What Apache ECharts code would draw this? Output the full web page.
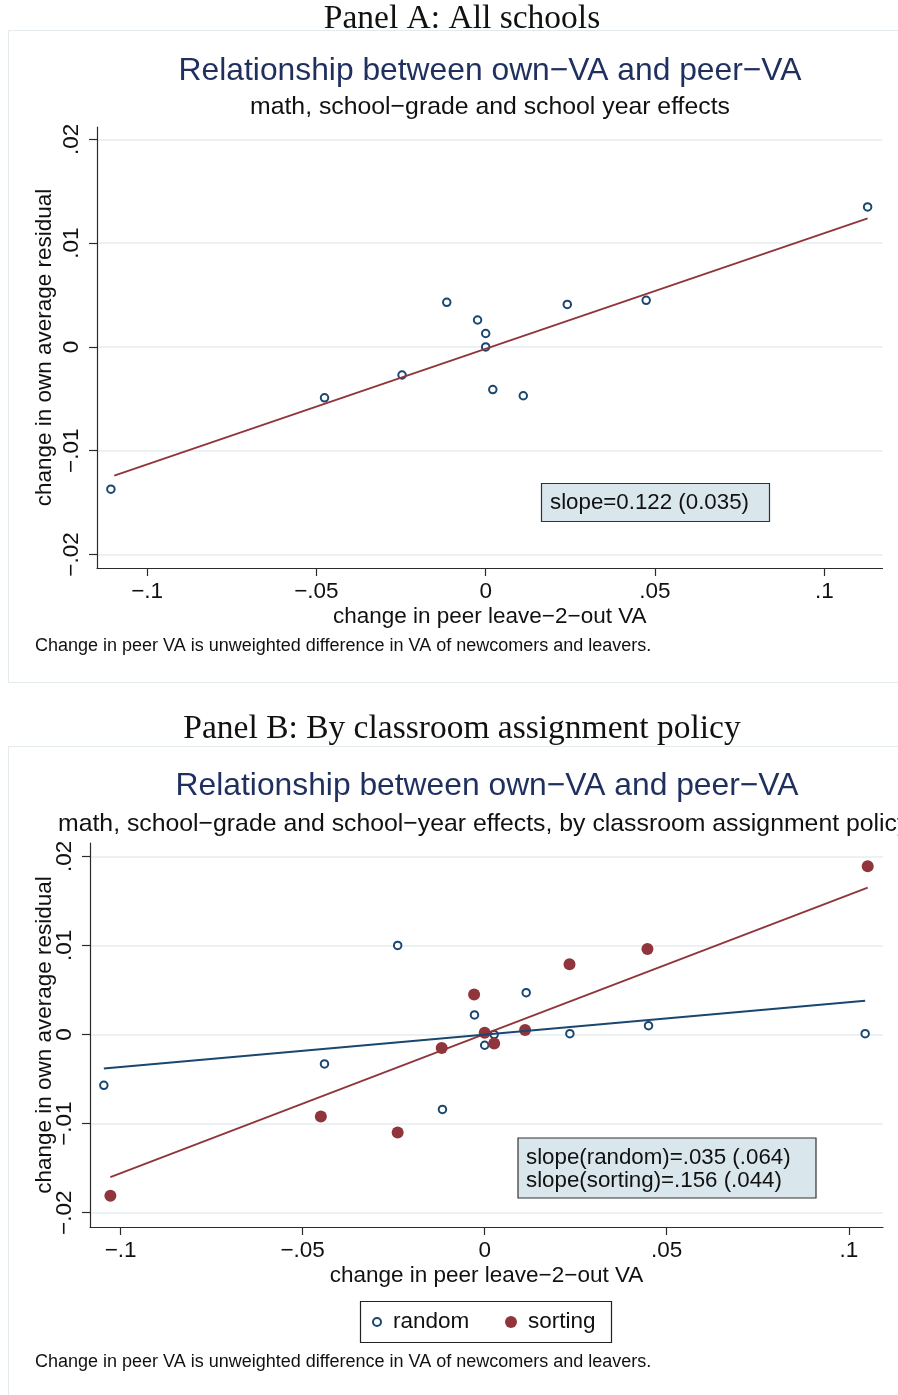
<!DOCTYPE html>
<html>
<head>
<meta charset="utf-8">
<script src="https://cdn.jsdelivr.net/npm/echarts@6.0.0/dist/echarts.min.js"></script>
<style>
  html, body { margin: 0; padding: 0; background: #ffffff; }
  #chart { width: 898px; height: 1395px; }
</style>
</head>
<body>
<div id="chart"></div>
<script>
// ---------- tick values / labels ----------
const xTickValues = [-0.1, -0.05, 0, 0.05, 0.1];
const xTickLabels = ['\u2212.1', '\u2212.05', '0', '.05', '.1'];
const yTickValues = [-0.02, -0.01, 0, 0.01, 0.02];
const yTickLabels = ['\u2212.02', '\u2212.01', '0', '.01', '.02'];

// ---------- Panel A: all schools ----------
const allX = [-0.1107, -0.0476, -0.0247, -0.0115, -0.0024, 0.0000, 0.0000, 0.0021, 0.0111, 0.0241, 0.0474, 0.1128];
const allY = [-0.0137, -0.0049, -0.0027, 0.0043, 0.0026, 0.0013, 0.0000, -0.0041, -0.0047, 0.0041, 0.0045, 0.0135];
const fitAllX = [-0.1097, 0.1128];
const fitAllY = [-0.0124, 0.0124];

// ---------- Panel B: by classroom assignment policy ----------
const randomX = [-0.1046, -0.0440, -0.0239, -0.0116, -0.0028, 0.0000, 0.0026, 0.0114, 0.0234, 0.0450, 0.1045];
const randomY = [-0.0057, -0.0033, 0.0100, -0.0084, 0.0022, -0.0012, 0.0000, 0.0047, 0.0001, 0.0010, 0.0001];
const sortingX = [-0.1028, -0.0450, -0.0239, -0.0118, -0.0029, 0.0000, 0.0026, 0.0111, 0.0233, 0.0447, 0.1052];
const sortingY = [-0.0181, -0.0092, -0.0110, -0.0015, 0.0045, 0.0002, -0.0010, 0.0005, 0.0079, 0.0096, 0.0189];
const fitRandomX = [-0.1046, 0.1045];
const fitRandomY = [-0.0038, 0.0038];
const fitSortingX = [-0.1028, 0.1052];
const fitSortingY = [-0.0160, 0.0165];

const zip = (xs, ys) => xs.map((x, i) => [x, ys[i]]);

const NAVY = '#1a476f';
const MAROON = '#90353b';
const TITLE = '#1f2f5e';
const GRID = '#e6eef1';
const AXIS = '#2b2b2b';
const SANS = '"Liberation Sans", Arial, sans-serif';
const SERIF = '"Liberation Serif", "Times New Roman", serif';

function lab(values, labels) {
  return function (v) {
    for (let i = 0; i < values.length; i++) {
      if (Math.abs(values[i] - v) < 1e-9) return labels[i];
    }
    return '';
  };
}

function xAxisDef(gridIndex, min, max) {
  return {
    type: 'value', gridIndex: gridIndex, min: min, max: max,
    name: 'change in peer leave\u22122\u2212out VA',
    nameLocation: 'middle', nameGap: 37, nameMoveOverlap: false,
    nameTextStyle: { fontFamily: SANS, fontSize: 22.5, color: '#111' },
    axisLine: { show: true, onZero: false, lineStyle: { color: AXIS, width: 1.2 } },
    axisTick: { show: true, length: 8, inside: false, customValues: xTickValues, lineStyle: { color: AXIS, width: 1.2 } },
    axisLabel: { customValues: xTickValues, formatter: lab(xTickValues, xTickLabels), margin: 12,
      fontFamily: SANS, fontSize: 22.5, color: '#111' },
    splitLine: { show: false }
  };
}
function yAxisDef(gridIndex, min, max, nameGap) {
  return {
    type: 'value', gridIndex: gridIndex, min: min, max: max,
    name: 'change in own average residual',
    nameLocation: 'middle', nameGap: nameGap, nameRotate: 90, nameMoveOverlap: false,
    nameTextStyle: { fontFamily: SANS, fontSize: 22.5, color: '#111', lineHeight: 26 },
    axisLine: { show: true, onZero: false, lineStyle: { color: AXIS, width: 1.2 } },
    axisTick: { show: true, length: 8, inside: false, customValues: yTickValues, lineStyle: { color: AXIS, width: 1.2 } },
    axisLabel: { customValues: yTickValues, formatter: lab(yTickValues, yTickLabels), rotate: 90, margin: 14,
      fontFamily: SANS, fontSize: 22.5, color: '#111' },
    splitLine: { show: true, lineStyle: { color: GRID, width: 1.6 } }
  };
}

function txt(x, y, text, size, color, family, align) {
  return {
    type: 'text', x: x, y: y, z: 20,
    style: { text: text, fontSize: size, fontFamily: family || SANS, fill: color || '#111',
      align: align || 'center', verticalAlign: 'middle' }
  };
}
function box(x, y, w, h, fill, stroke, lw) {
  return {
    type: 'rect', z: 15,
    shape: { x: x, y: y, width: w, height: h },
    style: { fill: fill, stroke: stroke, lineWidth: lw }
  };
}

const chart = echarts.init(document.getElementById('chart'), null, { renderer: 'canvas' });

const option = {
  backgroundColor: '#ffffff',
  animation: false,
  grid: [
    { left: 97, right: 15.5, top: 127, bottom: 827, containLabel: false },
    { left: 90, right: 15, top: 843, bottom: 168, containLabel: false }
  ],
  xAxis: [ xAxisDef(0, -0.1148, 0.1172), xAxisDef(1, -0.1084, 0.1094) ],
  yAxis: [ yAxisDef(0, -0.0213, 0.0212, 39), yAxisDef(1, -0.0216, 0.0215, 32) ],
  legend: [
    { data: ['random'], left: 372, top: 1309, padding: 0, itemWidth: 22, itemHeight: 8,
      textStyle: { fontFamily: SANS, fontSize: 22.5, color: '#111', lineHeight: 26 }, selectedMode: false },
    { data: ['sorting'], left: 505, top: 1309, padding: 0, itemWidth: 24, itemHeight: 12,
      textStyle: { fontFamily: SANS, fontSize: 22.5, color: '#111', lineHeight: 26 }, selectedMode: false }
  ],
  series: [
    { type: 'scatter', name: 'all', xAxisIndex: 0, yAxisIndex: 0, data: zip(allX, allY),
      symbol: 'circle', symbolSize: 7.5,
      itemStyle: { color: '#ffffff', borderColor: NAVY, borderWidth: 2, opacity: 1 }, z: 3 },
    { type: 'line', name: 'fitAll', xAxisIndex: 0, yAxisIndex: 0, data: zip(fitAllX, fitAllY),
      showSymbol: false, symbol: 'none', lineStyle: { color: MAROON, width: 1.8 }, z: 4 },

    { type: 'scatter', name: 'random', xAxisIndex: 1, yAxisIndex: 1, data: zip(randomX, randomY),
      symbol: 'circle', symbolSize: 7.5,
      itemStyle: { color: '#ffffff', borderColor: NAVY, borderWidth: 2, opacity: 1 }, z: 3 },
    { type: 'scatter', name: 'sorting', xAxisIndex: 1, yAxisIndex: 1, data: zip(sortingX, sortingY),
      symbol: 'circle', symbolSize: 12,
      itemStyle: { color: MAROON, borderColor: MAROON, borderWidth: 0, opacity: 1 }, z: 4 },
    { type: 'line', name: 'fitSorting', xAxisIndex: 1, yAxisIndex: 1, data: zip(fitSortingX, fitSortingY),
      showSymbol: false, symbol: 'none', lineStyle: { color: MAROON, width: 1.8 }, z: 5 },
    { type: 'line', name: 'fitRandom', xAxisIndex: 1, yAxisIndex: 1, data: zip(fitRandomX, fitRandomY),
      showSymbol: false, symbol: 'none', lineStyle: { color: NAVY, width: 2 }, z: 6 }
  ],
  graphic: [
    // panel frames
    { type: 'rect', z: 1, shape: { x: 8.5, y: 30.5, width: 900, height: 652 },
      style: { fill: 'none', stroke: '#e4ebee', lineWidth: 1 } },
    { type: 'rect', z: 1, shape: { x: 8.5, y: 746.5, width: 900, height: 700 },
      style: { fill: 'none', stroke: '#e4ebee', lineWidth: 1 } },

    // Panel A texts
    txt(462, 19, 'Panel A: All schools', 33.5, '#111', SERIF),
    txt(490, 71, 'Relationship between own\u2212VA and peer\u2212VA', 31.8, TITLE),
    txt(490, 107, 'math, school\u2212grade and school year effects', 24.8, '#111'),
    txt(35, 646, 'Change in peer VA is unweighted difference in VA of newcomers and leavers.', 18, '#111', SANS, 'left'),
    box(541.5, 483.5, 228, 38, '#d9e6ec', '#333333', 1.2),
    txt(550, 503, 'slope=0.122 (0.035)', 22.3, '#111', SANS, 'left'),

    // Panel B texts
    txt(462, 729, 'Panel B: By classroom assignment policy', 33.5, '#111', SERIF),
    txt(487, 786, 'Relationship between own\u2212VA and peer\u2212VA', 31.8, TITLE),
    txt(58, 824, 'math, school\u2212grade and school\u2212year effects, by classroom assignment policy', 24.8, '#111', SANS, 'left'),
    box(518, 1138, 298, 60, '#d9e6ec', '#333333', 1.2),
    txt(526, 1158, 'slope(random)=.035 (.064)', 22.3, '#111', SANS, 'left'),
    txt(526, 1181, 'slope(sorting)=.156 (.044)', 22.3, '#111', SANS, 'left'),
    box(360.5, 1301.5, 251, 41, 'none', '#222222', 1.2),
    txt(35, 1362, 'Change in peer VA is unweighted difference in VA of newcomers and leavers.', 18, '#111', SANS, 'left')
  ]
};

chart.setOption(option);
</script>
</body>
</html>
